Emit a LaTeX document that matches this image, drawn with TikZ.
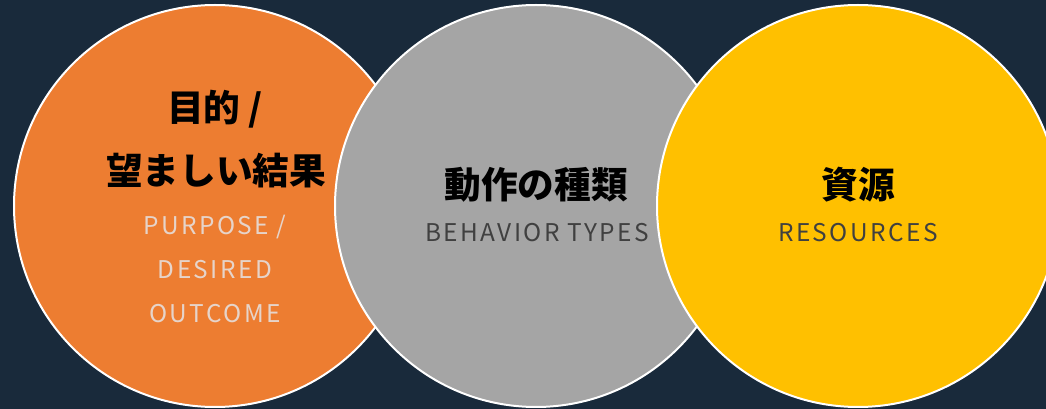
\documentclass[tikz,border=0pt]{standalone}
\usepackage{fontspec}
\newfontfamily\cjk{Noto Sans CJK JP}
\newfontfamily\cjklat[LetterSpace=10]{Noto Sans CJK JP}
\definecolor{bgc}{HTML}{192A3B}
\definecolor{orangec}{HTML}{ED7D31}
\definecolor{grayc}{HTML}{A5A5A5}
\definecolor{yellowc}{HTML}{FFC000}
\definecolor{paletxt}{HTML}{E6D4CA}
\definecolor{darktxt}{HTML}{404040}
\begin{document}
\begin{tikzpicture}[x=0.75pt,y=-0.75pt]
\tikzset{
  ring/.style={circle, draw=white, line width=1.5pt, minimum size=301.5pt, inner sep=0pt},
  jtitle/.style={anchor=base, inner sep=0pt, font=\cjk\bfseries\fontsize{27.5}{30}\selectfont, text=black},
  etitle/.style={anchor=base, inner sep=0pt, font=\cjklat\fontsize{18.3}{20}\selectfont},
}
\path[fill=bgc] (0,0) rectangle (1046,409);
\useasboundingbox (0,0) rectangle (1046,409);
\node[ring, fill=orangec] (purpose) at (215,206) {};
\node[ring, fill=grayc] (behavior) at (536,206) {};
\node[ring, fill=yellowc] (resources) at (858,206) {};
% orange texts
\node[jtitle] (p1) at (215,122) {目的 /};
\node[jtitle] (p2) at (216,185) {望ましい結果};
\node[etitle, text=paletxt] (p3) at (215,235) {PURPOSE /};
\node[etitle, text=paletxt] (p4) at (215,279) {DESIRED};
\node[etitle, text=paletxt] (p5) at (215,323) {OUTCOME};
% gray texts
\node[jtitle] (b1) at (536,199) {動作の種類};
\node[etitle, text=darktxt] (b2) at (537,242) {BEHAVIOR TYPES};
% yellow texts
\node[jtitle] (r1) at (858,199) {資源};
\node[etitle, text=darktxt] (r2) at (858,242) {RESOURCES};
\end{tikzpicture}
\end{document}
